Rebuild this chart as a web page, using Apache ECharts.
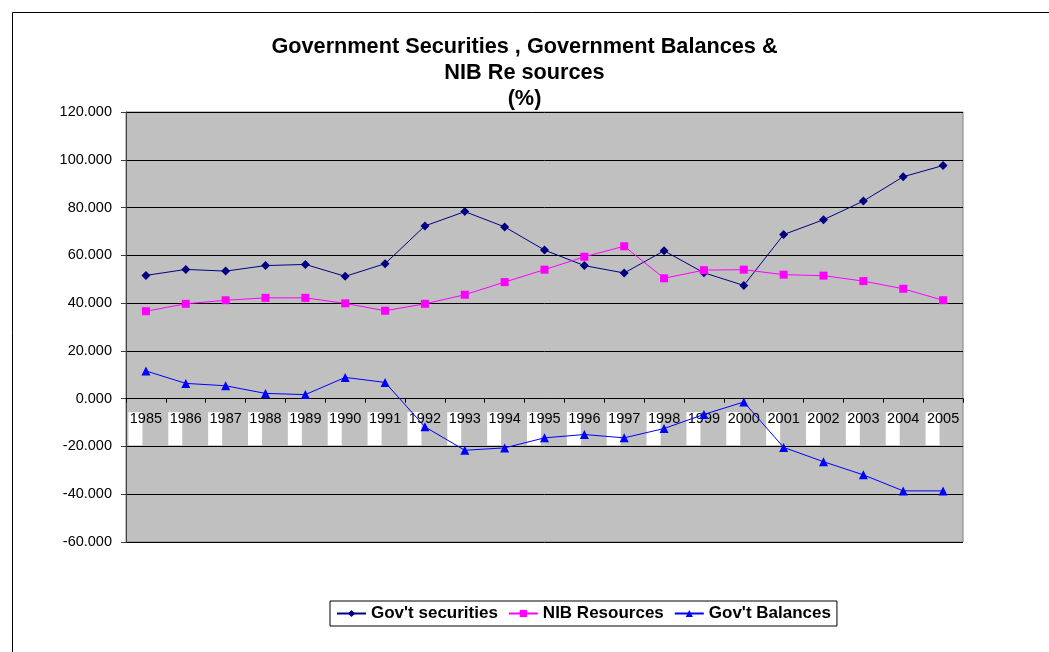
<!DOCTYPE html>
<html lang="en">
<head>
  <meta charset="UTF-8">
  <title>Government Securities</title>
  <style>
    html, body { margin: 0; padding: 0; background: #fff; }
    #chart { width: 1049px; height: 652px; }
  </style>
  <script src="https://cdn.jsdelivr.net/npm/echarts@6/dist/echarts.min.js"></script>
</head>
<body>
  <div id="chart"></div>
</body>
</html>
<script>
  // data
  var years = ['1985', '1986', '1987', '1988', '1989', '1990', '1991', '1992', '1993', '1994', '1995',
               '1996', '1997', '1998', '1999', '2000', '2001', '2002', '2003', '2004', '2005'];
  var govSecurities = [51.6, 54.1, 53.4, 55.7, 56.2, 51.2, 56.5, 72.3, 78.3, 71.9, 62.2,
                       55.7, 52.6, 61.9, 52.7, 47.4, 68.7, 74.9, 82.7, 92.9, 97.6];
  var nibResources = [36.6, 39.7, 41.2, 42.2, 42.2, 39.9, 36.8, 39.7, 43.5, 48.8, 54.0,
                      59.4, 63.8, 50.4, 53.8, 54.0, 51.9, 51.5, 49.2, 46.0, 41.2];
  var govBalances = [11.6, 6.4, 5.4, 2.2, 1.7, 8.9, 6.8, -11.8, -21.6, -20.6, -16.4,
                     -15.0, -16.4, -12.5, -6.6, -1.4, -20.4, -26.4, -31.9, -38.6, -38.6];
  var yMin = -60, yMax = 120, yStep = 20;

  var font = 'Liberation Sans, Arial, sans-serif';
  var grid = { left: 126, top: 112, right: 86, bottom: 110 };
  var plotH = 652 - grid.top - grid.bottom;
  // the category axis sits on the zero line, not at the bottom of the plot
  var zeroOffset = -plotH * (0 - yMin) / (yMax - yMin);

  var option = {
    animation: false,
    backgroundColor: '#fff',
    title: {
      text: 'Government Securities , Government Balances &\nNIB Re sources\n(%)',
      left: 'center',
      top: 29,
      textStyle: {
        fontFamily: font,
        fontSize: 21.7,
        fontWeight: 'bold',
        color: '#000',
        lineHeight: 26
      }
    },
    graphic: [{   // outer chart frame
      type: 'rect',
      shape: { x: 12.5, y: 12.5, width: 1100, height: 700 },
      style: { fill: 'none', stroke: '#000', lineWidth: 1 },
      silent: true
    }],
    legend: {
      left: 330,
      top: 601,
      padding: [4, 6],
      itemGap: 10,
      itemWidth: 29,
      itemHeight: 9,
      borderColor: '#000',
      borderWidth: 1,
      backgroundColor: '#fff',
      textStyle: { fontFamily: font, fontSize: 17, fontWeight: 'bold', color: '#000' },
      data: ['Gov\'t securities', 'NIB Resources', 'Gov\'t Balances']
    },
    grid: {
      left: grid.left,
      top: grid.top,
      right: grid.right,
      bottom: grid.bottom,
      show: true,
      backgroundColor: '#c0c0c0',
      borderColor: '#808080',
      borderWidth: 1
    },
    xAxis: [
      {   // year labels
        type: 'category',
        data: years,
        boundaryGap: true,
        offset: zeroOffset,
        z: 3,
        axisLine: { onZero: false, lineStyle: { color: '#000', width: 1 } },
        axisTick: { show: true, inside: false, length: 4, lineStyle: { color: '#000' } },
        axisLabel: {
          margin: 13,
          interval: 0,
          fontFamily: font,
          fontSize: 14.5,
          color: '#000'
        },
        splitLine: { show: false }
      },
      {   // white patches behind the year labels
        type: 'category',
        data: years,
        position: 'bottom',
        boundaryGap: true,
        offset: zeroOffset,
        z: 1,
        axisLine: { show: false, onZero: false },
        axisTick: { show: false },
        axisLabel: {
          margin: 13.5,
          interval: 0,
          formatter: function () { return '{w| }{s| }'; },
          rich: {
            w: { width: 14, height: 33, backgroundColor: '#fff' },
            s: { width: 21, height: 33 }
          }
        },
        splitLine: { show: false }
      }
    ],
    yAxis: {
      type: 'value',
      min: yMin,
      max: yMax,
      interval: yStep,
      z: 2,
      axisLine: { show: true, lineStyle: { color: '#404040', width: 1 } },
      axisTick: { show: true, length: 5, lineStyle: { color: '#404040' } },
      axisLabel: {
        margin: 14,
        fontFamily: font,
        fontSize: 14.5,
        color: '#000',
        formatter: function (v) { return v.toFixed(3); }
      },
      splitLine: { show: true, lineStyle: { color: '#000', width: 1 } }
    },
    series: [
      {
        name: 'Gov\'t securities',
        type: 'line',
        data: govSecurities,
        z: 5,
        symbol: 'diamond',
        symbolSize: 9,
        color: '#000080',
        lineStyle: { width: 1 }
      },
      {
        name: 'NIB Resources',
        type: 'line',
        data: nibResources,
        z: 5,
        symbol: 'rect',
        symbolSize: 8,
        color: '#ff00ff',
        lineStyle: { width: 1 }
      },
      {
        name: 'Gov\'t Balances',
        type: 'line',
        data: govBalances,
        z: 5,
        symbol: 'triangle',
        symbolSize: 9,
        color: '#0000ff',
        lineStyle: { width: 1 }
      }
    ]
  };

  var myChart = echarts.init(document.getElementById('chart'));
  myChart.setOption(option);
</script>
